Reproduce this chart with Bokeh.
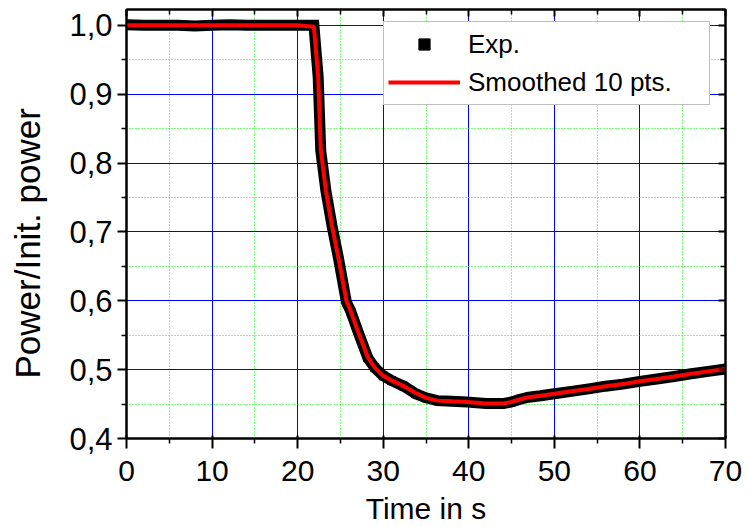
from bokeh.plotting import figure
from bokeh.models import (Range1d, FixedTicker, LinearAxis, Legend, LegendItem,
                          Title, ColumnDataSource)
from bokeh.embed import file_html
from bokeh.resources import INLINE

# ---- data ----
time_s = [0, 2, 4, 6, 8, 10, 12, 14, 16, 18, 20, 21.9, 22.4, 22.7, 23.3, 24.0,
          24.8, 25.7, 26.2, 27.0, 28.2, 29.0, 30.0, 31.0, 32.4, 33.8, 35.0, 36.3,
          38.0, 39.8, 42.0, 44.1, 45.0, 46.0, 47.0, 48.4, 50, 52, 54, 56, 58,
          60, 62, 64, 66, 68, 70]
exp_power = [1.001, 1.000, 1.000, 1.000, 0.999, 1.000, 1.001, 1.000, 1.000, 1.000,
             1.000, 1.000, 0.925, 0.818, 0.760, 0.710, 0.660, 0.598, 0.585, 0.557,
             0.517, 0.503, 0.491, 0.484, 0.476, 0.465, 0.459, 0.455, 0.454, 0.453,
             0.451, 0.451, 0.453, 0.457, 0.460, 0.462, 0.465, 0.4685, 0.472, 0.476,
             0.479, 0.483, 0.4865, 0.490, 0.494, 0.4975, 0.501]
smoothed_power = [1.000, 1.000, 1.000, 1.000, 1.000, 1.000, 1.000, 1.000, 1.000, 1.000,
                  1.000, 0.998, 0.925, 0.820, 0.760, 0.710, 0.660, 0.600, 0.585, 0.557,
                  0.518, 0.503, 0.491, 0.484, 0.476, 0.466, 0.459, 0.455, 0.454, 0.453,
                  0.451, 0.451, 0.453, 0.457, 0.460, 0.462, 0.465, 0.4685, 0.472, 0.476,
                  0.479, 0.483, 0.4865, 0.490, 0.494, 0.4975, 0.501]

x_ticks = [0, 10, 20, 30, 40, 50, 60, 70]
x_minor = [5, 15, 25, 35, 45, 55, 65]
y_ticks = [0.4, 0.5, 0.6, 0.7, 0.8, 0.9, 1.0]
y_minor = [0.45, 0.55, 0.65, 0.75, 0.85, 0.95]
y_tick_labels = ["0,4", "0,5", "0,6", "0,7", "0,8", "0,9", "1,0"]

FONT = "Liberation Sans"

p = figure(width=747, height=527, output_backend="svg", toolbar_location=None,
           x_range=Range1d(0, 70), y_range=Range1d(0.4, 1.023),
           min_border_left=126, min_border_right=22, min_border_top=9,
           min_border_bottom=89, background_fill_color="white",
           border_fill_color="white")
p.outline_line_color = "black"
p.outline_line_width = 2

xt = FixedTicker(ticks=x_ticks, minor_ticks=x_minor)
yt = FixedTicker(ticks=y_ticks, minor_ticks=y_minor)

# bottom axis
ax = p.xaxis[0]
ax.ticker = xt
ax.axis_label = "Time in s"
ax.axis_label_text_font = FONT
ax.axis_label_text_font_style = "normal"
ax.axis_label_text_font_size = "30px"
ax.axis_label_text_color = "black"
ax.axis_label_standoff = 8
ax.major_label_text_font = FONT
ax.major_label_text_font_size = "30px"
ax.major_label_text_color = "black"
ax.major_label_standoff = 12
ax.major_tick_out = 10
ax.major_tick_in = 3
ax.minor_tick_out = 5
ax.minor_tick_in = 0
ax.axis_line_width = 2
ax.major_tick_line_width = 2
ax.minor_tick_line_width = 1.5

# left axis
ay = p.yaxis[0]
ay.ticker = yt
ay.major_label_overrides = {v: s for v, s in zip(y_ticks, y_tick_labels)}
ay.major_label_text_font = FONT
ay.major_label_text_font_size = "31px"
ay.major_label_text_color = "black"
ay.major_label_standoff = 5
ay.major_tick_out = 9
ay.major_tick_in = 0
ay.minor_tick_out = 5
ay.minor_tick_in = 0
ay.axis_line_width = 2
ay.major_tick_line_width = 2
ay.minor_tick_line_width = 1.5

# top and right mirror axes (ticks only, inward; labels not drawn)
top = LinearAxis(ticker=xt, major_label_text_font_size="10px", major_label_text_color=None,
                 major_label_standoff=0,
                 major_tick_out=0, major_tick_in=7, minor_tick_out=0, minor_tick_in=5,
                 axis_line_width=2, major_tick_line_width=2, minor_tick_line_width=1.5)
right = LinearAxis(ticker=yt, major_label_text_font_size="10px", major_label_text_color=None,
                   major_label_standoff=0,
                   major_tick_out=0, major_tick_in=7, minor_tick_out=0, minor_tick_in=5,
                   axis_line_width=2, major_tick_line_width=2, minor_tick_line_width=1.5)
p.add_layout(top, "above")
p.add_layout(right, "right")

# grids
for g in (p.xgrid[0], p.ygrid[0]):
    g.grid_line_color = "#0000ff"
    g.grid_line_width = 1
    g.minor_grid_line_color = "#00ff00"
    g.minor_grid_line_width = 1
    g.minor_grid_line_dash = "1 2"
p.xgrid[0].ticker = xt
p.ygrid[0].ticker = yt

# y axis title on the left side
p.add_layout(Title(text="Power/Init. power", align="left", vertical_align="top",
                   offset=48, standoff=12, padding=(12, 0, 0, 0),
                   text_font=FONT, text_font_size="35px", text_font_style="normal",
                   text_color="black"), "left")

src = ColumnDataSource(dict(t=time_s, e=exp_power, s=smoothed_power))

p.line("t", "e", source=src, line_color="black", line_width=11, line_join="miter")
exp_r = p.scatter("t", "e", source=src, marker="square", size=8,
                  fill_color="black", line_color="black")
sm_r = p.line("t", "s", source=src, line_color="#ff0000", line_width=4)

legend = Legend(items=[LegendItem(label="Exp.", renderers=[exp_r]),
                       LegendItem(label="Smoothed 10 pts.", renderers=[sm_r])],
                location=(257, 333), margin=0, padding=4, spacing=2,
                glyph_width=72, glyph_height=28, label_height=36, label_width=237,
                label_standoff=8, label_text_font=FONT, label_text_font_size="26px",
                label_text_color="black",
                border_line_color="#7f7f7f", border_line_width=1.5,
                background_fill_color="white", background_fill_alpha=1.0)
p.add_layout(legend, "center")

open("out.html", "w").write(file_html(p, INLINE))
